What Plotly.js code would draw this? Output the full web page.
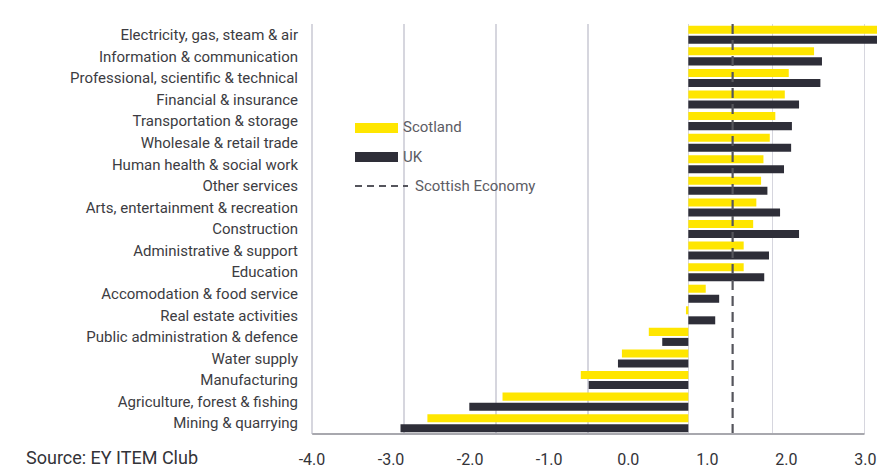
<!DOCTYPE html>
<html>
<head>
<meta charset="utf-8">
<script src="https://cdn.plot.ly/plotly-3.0.1.min.js"></script>
<style>
  html, body { margin: 0; padding: 0; background: #ffffff; }
  #chart { width: 877px; height: 468px; }
</style>
</head>
<body>
<div id="chart"></div>
<script>
// Sector output growth, % — Scotland vs UK
const sectors = [
  'Electricity, gas, steam & air',
  'Information & communication',
  'Professional, scientific & technical',
  'Financial & insurance',
  'Transportation & storage',
  'Wholesale & retail trade',
  'Human health & social work',
  'Other services',
  'Arts, entertainment & recreation',
  'Construction',
  'Administrative & support',
  'Education',
  'Accomodation & food service',
  'Real estate activities',
  'Public administration & defence',
  'Water supply',
  'Manufacturing',
  'Agriculture, forest & fishing',
  'Mining & quarrying'
];
const scotland = [2.60, 1.59, 1.27, 1.22, 1.10, 1.03, 0.95, 0.92, 0.86, 0.82, 0.70, 0.70, 0.22, -0.03, -0.50, -0.84, -1.36, -2.35, -3.30];
const uk       = [2.50, 1.69, 1.67, 1.40, 1.31, 1.30, 1.21, 1.00, 1.16, 1.40, 1.02, 0.96, 0.39, 0.34, -0.33, -0.89, -1.26, -2.77, -3.64];
const scottishEconomy = 0.56;

// Printed scale along the bottom
const scaleValues = [-4, -3, -2, -1, 0, 1, 2, 3];
const scaleLabels = ['-4.0', '-3.0', '-2.0', '-1.0', '0.0', '1.0', '2.0', '3.0'];

const YELLOW = '#FFE600';
const DARK = '#2E2E38';
const FONT = 'Roboto, "Open Sans", sans-serif';

// plot frame in pixels
const W = 877, H = 468;
const M = { l: 308, r: 0, t: 24, b: 34 };
const plotW = W - M.l - M.r, plotH = H - M.t - M.b;
const px2paperX = px => (px - M.l) / plotW;
const px2paperY = py => (H - M.b - py) / plotH;

const xRange = [-4.81, 2.386];
const gridVals = [-4.757, -3.595, -2.43, -1.266, 0, 1.063, 2.228];
const scaleShift = 0.76;

const traces = [
  {
    type: 'bar', orientation: 'h', name: 'Scotland',
    y: sectors, x: scotland,
    marker: { color: YELLOW, line: { width: 0 } },
    hoverinfo: 'skip', showlegend: false
  },
  {
    type: 'bar', orientation: 'h', name: 'UK',
    y: sectors, x: uk,
    marker: { color: DARK, line: { width: 0 } },
    hoverinfo: 'skip', showlegend: false
  },
  {
    type: 'scatter', mode: 'lines', name: 'Scottish Economy',
    x: [scottishEconomy, scottishEconomy], y: [0, 1],
    xaxis: 'x', yaxis: 'y2',
    line: { color: '#55555c', width: 2.2, dash: '10px,6px' },
    hoverinfo: 'skip', showlegend: false
  },
  {
    // carrier for the printed bottom scale
    type: 'scatter', mode: 'markers', name: 'scale',
    x: scaleValues, y: scaleValues.map(() => sectors[0]),
    xaxis: 'x2', yaxis: 'y',
    marker: { opacity: 0, size: 1 },
    hoverinfo: 'skip', showlegend: false
  }
];

// hand-drawn key
const keyX0 = px2paperX(355), keyX1 = px2paperX(398), dashX1 = px2paperX(408);
const shapes = [
  { type: 'rect', xref: 'paper', yref: 'paper', x0: keyX0, x1: keyX1,
    y0: px2paperY(133), y1: px2paperY(123), fillcolor: YELLOW, line: { width: 0 } },
  { type: 'rect', xref: 'paper', yref: 'paper', x0: keyX0, x1: keyX1,
    y0: px2paperY(162), y1: px2paperY(152), fillcolor: DARK, line: { width: 0 } },
  { type: 'line', xref: 'paper', yref: 'paper', x0: keyX0, x1: dashX1,
    y0: px2paperY(186), y1: px2paperY(186), line: { color: '#55555c', width: 2, dash: '7px,5px' } },
  // bottom axis rule
  { type: 'line', xref: 'x', yref: 'paper', x0: gridVals[0], x1: gridVals[gridVals.length - 1],
    y0: 0, y1: 0, line: { color: '#a8a8ae', width: 2 } }
];

const keyFont = { family: FONT, size: 15, color: '#5c5c64' };
const annotations = [
  { xref: 'paper', yref: 'paper', x: px2paperX(401), y: px2paperY(127), text: 'Scotland',
    showarrow: false, xanchor: 'left', yanchor: 'middle', font: keyFont },
  { xref: 'paper', yref: 'paper', x: px2paperX(401), y: px2paperY(157), text: 'UK',
    showarrow: false, xanchor: 'left', yanchor: 'middle', font: keyFont },
  { xref: 'paper', yref: 'paper', x: px2paperX(413), y: px2paperY(186), text: 'Scottish Economy',
    showarrow: false, xanchor: 'left', yanchor: 'middle', font: keyFont },
  { xref: 'paper', yref: 'paper', x: px2paperX(25), y: px2paperY(457), text: 'Source: EY ITEM Club',
    showarrow: false, xanchor: 'left', yanchor: 'middle', borderpad: 0,
    font: { family: FONT, size: 18, color: '#333338' } }
];

const layout = {
  width: W, height: H,
  margin: M,
  paper_bgcolor: '#ffffff', plot_bgcolor: '#ffffff',
  barmode: 'group', bargap: 0.07, bargroupgap: 0.2,
  showlegend: false,
  xaxis: {
    range: xRange, tickvals: gridVals, showticklabels: false,
    showgrid: true, gridcolor: '#d6d6de', gridwidth: 1.5,
    zeroline: false, showline: false, ticks: '', fixedrange: true
  },
  xaxis2: {
    overlaying: 'x', anchor: 'y', side: 'bottom',
    range: [xRange[0] + scaleShift, xRange[1] + scaleShift],
    tickvals: scaleValues, ticktext: scaleLabels,
    showgrid: false, zeroline: false, showline: false, ticks: '',
    ticklabelstandoff: 14,
    tickfont: { family: FONT, size: 16, color: '#333338' }, fixedrange: true
  },
  yaxis: {
    type: 'category', categoryorder: 'array', categoryarray: sectors,
    range: [sectors.length - 0.5, -0.5],
    showgrid: false, zeroline: false, showline: false, ticks: '',
    ticklabelstandoff: 9,
    tickfont: { family: FONT, size: 15, color: '#3c3c42' }, fixedrange: true
  },
  yaxis2: { overlaying: 'y', range: [0, 1], visible: false, fixedrange: true },
  shapes: shapes,
  annotations: annotations
};

Plotly.newPlot('chart', traces, layout, { displayModeBar: false, staticPlot: true });
</script>
</body>
</html>
